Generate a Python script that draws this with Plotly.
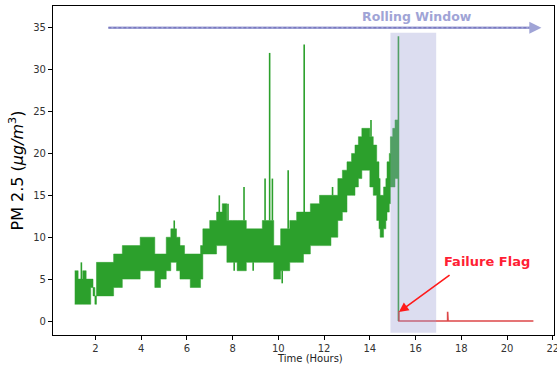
import numpy as np
import plotly.graph_objects as go

# ---- data ----
# PM2.5 band: segment start times (hours) with lower / upper envelope values
seg_t = [1.10, 1.25, 1.45, 1.60, 1.80, 1.90, 1.98, 2.05, 2.40, 2.80,
         3.00, 3.18, 3.55, 3.96, 4.30, 4.60, 4.85, 5.10, 5.30, 5.55,
         5.70, 5.90, 6.15, 6.60, 6.70, 7.00, 7.30, 7.55, 7.75, 8.00,
         8.20, 8.60, 8.95, 9.30, 9.55, 9.80, 10.10, 10.50, 10.80, 11.10,
         11.40, 11.80, 12.30, 12.60, 12.80, 13.00, 13.20, 13.35, 13.50, 13.65,
         13.85, 14.00, 14.15, 14.30, 14.40, 14.45, 14.55, 14.60, 14.70, 14.75,
         14.85, 14.90, 15.00, 15.10, 15.25]
seg_low = [2, 2, 2, 2, 4, 3, 2, 3, 3, 4,
           4, 5, 5, 6, 6, 4, 5, 6, 7, 6,
           5, 5, 4, 5, 8, 8, 9, 9, 7, 7,
           6, 7, 7, 7, 7, 5, 6, 7, 7, 8,
           9, 9, 10, 12, 13, 15, 15, 16, 17, 18,
           18, 16, 15, 12, 11, 10, 10, 11, 12, 13,
           14, 16, 16, 17, 17]
seg_high = [6, 5, 6, 5, 5, 4, 3, 7, 7, 8,
            8, 9, 9, 10, 10, 8, 8, 10, 11, 10,
            9, 8, 8, 9, 11, 12, 13, 14, 12, 12,
            12, 11, 11, 12, 12, 9, 11, 12, 13, 13,
            14, 15, 15, 17, 18, 19, 20, 21, 22, 23,
            23, 22, 21, 19, 17, 15, 15, 16, 17, 19,
            20, 22, 23, 24, 24]
# isolated spikes / dips (time, value)
spike_t = [1.39, 5.45, 7.42, 7.80, 8.07, 8.50, 8.90, 9.42, 9.62, 9.74,
           10.17, 10.43, 11.13, 12.37, 14.05]
spike_v = [7, 12, 15, 14, 6, 16, 6, 17, 32, 17,
           4.5, 18, 33, 16, 24]
# last reading before failure
end_t = 15.25
end_peak = 34
# failure flag series
flag_t = [15.27, 15.27, 17.40, 17.40, 17.42, 21.15]
flag_v = [1.2, 0, 0, 1.1, 0, 0]
# rolling window span
window_start, window_end = 14.9, 16.9
window_arrow_start, window_arrow_end, window_level = 2.57, 21.5, 35

y_ticks = [0, 5, 10, 15, 20, 25, 30, 35]
x_ticks = [2, 4, 6, 8, 10, 12, 14, 16, 18, 20, 22]

GREEN = "#2ca02c"
LAV = "rgb(160,164,214)"

fig = go.Figure()

# band lower edge
fig.add_trace(go.Scatter(x=seg_t, y=seg_low, mode="lines",
                         line=dict(color=GREEN, width=0.5, shape="hv"),
                         showlegend=False, hoverinfo="skip"))
# band upper edge filled down to lower edge
fig.add_trace(go.Scatter(x=seg_t, y=seg_high, mode="lines",
                         line=dict(color=GREEN, width=0.5, shape="hv"),
                         fill="tonexty", fillcolor=GREEN,
                         showlegend=False, hoverinfo="skip"))

# spikes from the band edge
st = np.asarray(seg_t)
lo = np.asarray(seg_low, dtype=float)
hi = np.asarray(seg_high, dtype=float)
sx, sy = [], []
for t, v in zip(spike_t, spike_v):
    i = max(int(np.searchsorted(st, t, side="right")) - 1, 0)
    base = hi[i] if v > hi[i] else lo[i]
    sx += [t, t, None]
    sy += [base, v, None]
sx += [end_t, end_t, end_t]
sy += [hi[-1], end_peak, 0]
fig.add_trace(go.Scatter(x=sx, y=sy, mode="lines",
                         line=dict(color=GREEN, width=1.6),
                         showlegend=False, hoverinfo="skip"))

# failure flag
fig.add_trace(go.Scatter(x=flag_t, y=flag_v, mode="lines",
                         line=dict(color="rgba(214,39,40,0.85)", width=1.6),
                         showlegend=False, hoverinfo="skip"))

shapes = [
    dict(type="rect", xref="x", yref="y", x0=window_start, x1=window_end,
         y0=-1.4, y1=34.4, fillcolor="rgba(155,158,212,0.35)",
         line=dict(width=0), layer="above"),
    dict(type="line", xref="x", yref="y", x0=window_arrow_start, x1=window_arrow_end - 0.5,
         y0=window_level, y1=window_level, line=dict(color=LAV, width=2.5)),
    dict(type="line", xref="x", yref="y", x0=window_arrow_start, x1=window_arrow_end - 0.5,
         y0=window_level, y1=window_level,
         line=dict(color="rgb(110,105,185)", width=1, dash="3px,2px")),
]

annotations = [
    dict(x=window_arrow_end, y=window_level, ax=window_arrow_end - 0.6, ay=window_level,
         xref="x", yref="y", axref="x", ayref="y", text="", showarrow=True,
         arrowhead=2, arrowsize=1.1, arrowwidth=2.2, arrowcolor=LAV, standoff=0),
    dict(x=16.06, y=36.3, xref="x", yref="y", text="<b>Rolling Window</b>",
         showarrow=False, font=dict(family="DejaVu Sans", size=12.5, color=LAV)),
    dict(x=15.27, y=1.07, ax=17.55, ay=5.6, xref="x", yref="y", axref="x", ayref="y",
         text="", showarrow=True, arrowhead=2, arrowsize=1.2, arrowwidth=1.6,
         arrowcolor="#ff1a1a", standoff=0),
    dict(x=19.12, y=7.05, xref="x", yref="y", text="<b>Failure Flag</b>",
         showarrow=False, font=dict(family="DejaVu Sans", size=13, color="#ff1f35")),
    dict(x=11.4, y=0, xref="x", yref="paper", yanchor="top", yshift=-16,
         text="Time (Hours)", showarrow=False,
         font=dict(family="DejaVu Sans", size=10, color="#222222")),
]

fig.update_layout(
    width=557, height=369,
    margin=dict(l=53, r=3, t=6, b=34),
    paper_bgcolor="white", plot_bgcolor="white",
    shapes=shapes, annotations=annotations,
    font=dict(family="DejaVu Sans", size=10, color="#333333"),
)
axis_common = dict(showline=True, mirror=True, linecolor="black", linewidth=1.2,
                   ticks="outside", ticklen=4, tickwidth=1, tickcolor="black",
                   showgrid=False, zeroline=False, automargin=False,
                   ticklabeloverflow="allow",
                   tickfont=dict(family="DejaVu Sans", size=10, color="#333333"))
fig.update_xaxes(range=[0.15, 22.05], tickvals=x_ticks, **axis_common)
fig.update_yaxes(range=[-1.67, 37.6], tickvals=y_ticks,
                 title=dict(text="PM 2.5 (<i>μg/m</i><sup>3</sup>)",
                            font=dict(family="DejaVu Sans", size=16, color="black"),
                            standoff=5),
                 **axis_common)

fig.write_html("out.html", config={"displayModeBar": False},
               post_script="document.body.style.margin='0';document.body.style.padding='0';")
